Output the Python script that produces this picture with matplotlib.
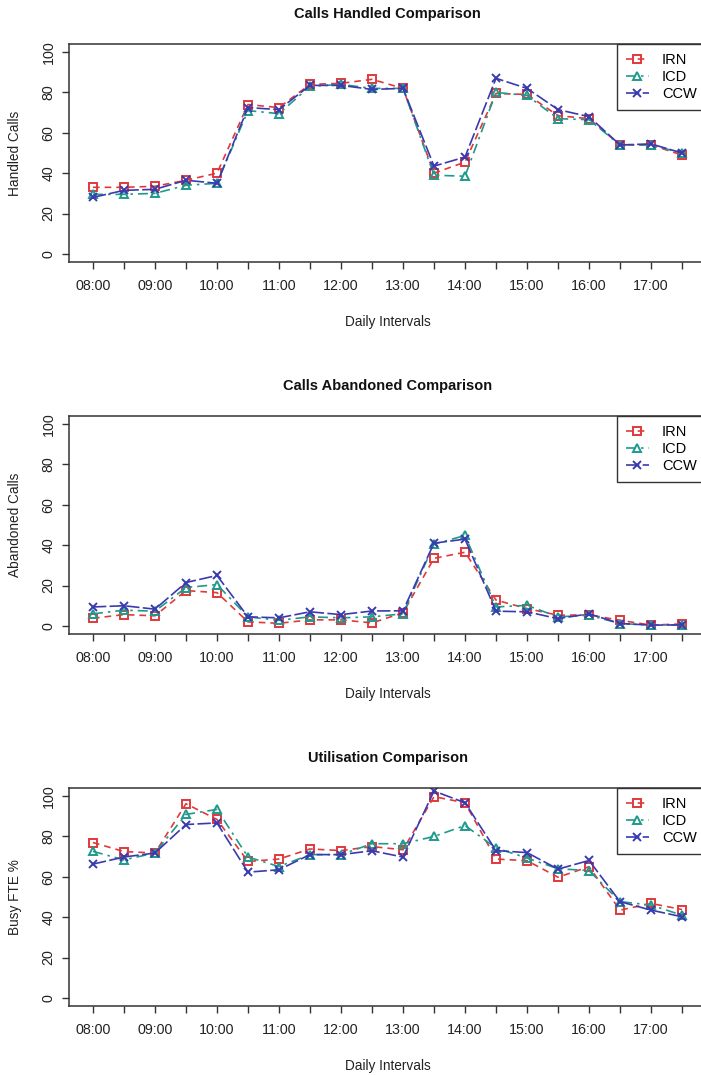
import matplotlib
matplotlib.use("agg")
import matplotlib.pyplot as plt

plt.rcParams["font.family"] = ["Liberation Sans", "DejaVu Sans"]

intervals = ["08:00", "08:30", "09:00", "09:30", "10:00", "10:30", "11:00", "11:30",
             "12:00", "12:30", "13:00", "13:30", "14:00", "14:30", "15:00", "15:30",
             "16:00", "16:30", "17:00", "17:30"]

handled_irn = [33, 33, 33.5, 36.5, 40, 74, 72.5, 84, 84.5, 86.5, 82, 40, 45.5, 79.5, 79, 68.5, 67, 54, 54, 49]
handled_icd = [29.5, 29.5, 30, 34, 35, 71, 69.5, 83, 84, 82, 82, 39, 38.5, 80, 78.5, 67, 66.5, 54, 54, 50]
handled_ccw = [28, 31.5, 32, 36.5, 35, 72.5, 71.5, 83.5, 83.5, 81.5, 82, 43.5, 48, 87, 82, 71.5, 68, 54, 54.5, 50]

abandoned_irn = [3.8, 5.6, 5, 17.5, 16.5, 2, 1.3, 3, 3, 1.5, 6.5, 33.5, 36.5, 12.8, 8.6, 5.3, 5.5, 2.8, 0.4, 1]
abandoned_icd = [6, 7.8, 7.3, 19, 20.5, 4.5, 2.8, 4.5, 4, 4.5, 6, 40.5, 44.8, 9.4, 10.2, 4.5, 5.3, 1.2, 0.4, 0.5]
abandoned_ccw = [9.4, 10, 8.3, 21.5, 25, 4.5, 4, 7, 5.6, 7.4, 7.5, 41, 43, 7.3, 7, 3.6, 6, 1.2, 0.4, 0.5]

util_irn = [77, 72.5, 71.8, 96.2, 88.4, 67.6, 68.8, 73.8, 73, 75, 73.4, 99.7, 96.7, 68.8, 68, 59.8, 65, 43.5, 46.8, 43.8]
util_icd = [72.6, 68.4, 71.8, 90.9, 93.4, 69.8, 65.1, 71, 71, 76.4, 76.4, 80, 85.4, 74.3, 69.3, 64, 63.1, 47.7, 46, 41]
util_ccw = [66.3, 69.8, 71.8, 85.9, 86.7, 62.3, 63.5, 71, 71, 72.9, 69.8, 102.5, 96.7, 73, 72, 63.8, 68.1, 47.7, 43.5, 40.2]

panels = [
    ("Calls Handled Comparison", "Handled Calls", handled_irn, handled_icd, handled_ccw),
    ("Calls Abandoned Comparison", "Abandoned Calls", abandoned_irn, abandoned_icd, abandoned_ccw),
    ("Utilisation Comparison", "Busy FTE %", util_irn, util_icd, util_ccw),
]

series_style = [
    ("IRN", "#E0393B", (0, (4, 3)), "s"),
    ("ICD", "#1E9A8C", (0, (6, 3, 1.5, 3)), "^"),
    ("CCW", "#3A3AB0", (0, (8, 2)), "x"),
]

W, H = 701, 1075
fig = plt.figure(figsize=(W / 100, H / 100), dpi=100)

# axes box in pixels; the right edge runs just past the image, as in the source
left_px, right_px = 69.4, 705.6
tops = [44, 416, 788]
height_px = 218
x = list(range(len(intervals)))
tick_labels = [lab if i % 2 == 0 else "" for i, lab in enumerate(intervals)]
axis_col = "#333333"

for top, (title, ylabel, irn, icd, ccw) in zip(tops, panels):
    ax = fig.add_axes([left_px / W, 1 - (top + height_px) / H,
                       (right_px - left_px) / W, height_px / H])
    for (name, col, ls, mk), vals in zip(series_style, [irn, icd, ccw]):
        ax.plot(x, vals, color=col, linestyle=ls, linewidth=1.2, marker=mk,
                markersize=5.5, markerfacecolor="none", markeredgecolor=col,
                markeredgewidth=1.4, label=name)
    ax.set_xlim(-0.76, 19.76)
    ax.set_ylim(-4, 104)
    ax.set_xticks(x)
    ax.set_xticklabels(tick_labels, fontsize=10.3, color="#222222")
    ax.set_yticks([0, 20, 40, 60, 80, 100])
    ax.set_yticklabels(["0", "20", "40", "60", "80", "100"], rotation=90,
                       va="center", fontsize=10.3, color="#222222")
    ax.tick_params(axis="both", direction="out", length=5, width=1, color=axis_col)
    ax.tick_params(axis="x", pad=7)
    ax.tick_params(axis="y", pad=5)
    for sp in ax.spines.values():
        sp.set_color(axis_col)
        sp.set_linewidth(1.1)
    ax.set_title(title, fontsize=10.5, fontweight="bold", pad=19, color="#111111")
    ax.set_xlabel("Daily Intervals", fontsize=9.8, labelpad=16, color="#222222")
    ax.set_ylabel(ylabel, fontsize=9.8, labelpad=14, color="#222222")
    leg = ax.legend(loc="upper right", borderaxespad=0, fancybox=False,
                    edgecolor=axis_col, fontsize=10.5, handlelength=1.6,
                    handletextpad=0.9, labelspacing=0.22, borderpad=0.6,
                    framealpha=1)
    leg.get_frame().set_linewidth(1.0)

fig.savefig("out.png", dpi=100)
plt.close(fig)
